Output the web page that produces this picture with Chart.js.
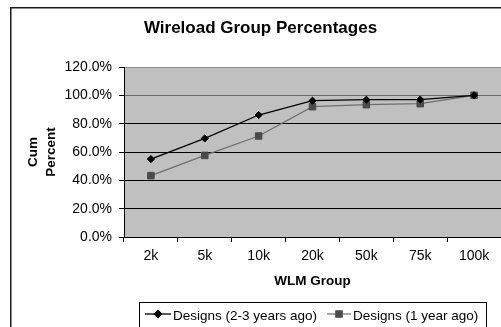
<!DOCTYPE html>
<html>
<head>
<meta charset="utf-8">
<script src="https://cdn.jsdelivr.net/npm/chart.js@4.4.1/dist/chart.umd.min.js"></script>
<style>
  html, body { margin: 0; padding: 0; background: #fff; overflow: hidden; }
  #wrap { width: 501px; height: 327px; position: relative; }
</style>
</head>
<body>
<div id="wrap"><canvas id="chart" width="501" height="327"></canvas></div>
<script>
// WLM group buckets along the x axis
const categories = ['2k', '5k', '10k', '20k', '50k', '75k', '100k'];
// Cumulative percentage of designs per group
const designsOlder  = [55.0, 69.6, 86.1, 96.2, 96.9, 97.0, 100.0];
const designsRecent = [43.3, 57.6, 71.3, 92.0, 93.4, 94.1, 100.0];
// Series names
const seriesNames = ['Designs (2-3 years ago)', 'Designs (1 year ago)'];
// Y axis range and step (percent)
const yTicks = [0, 20, 40, 60, 80, 100, 120];

const FONT = '"Liberation Sans", Arial, sans-serif';

// Frame, titles and legend drawn around the plot
const decorations = {
  id: 'decorations',
  beforeDraw(chart) {
    const ctx = chart.ctx;
    const a = chart.chartArea;
    ctx.save();
    ctx.fillStyle = '#fff';
    ctx.fillRect(0, 0, chart.width, chart.height);
    // plot background
    ctx.fillStyle = '#c0c0c0';
    ctx.fillRect(a.left, a.top, a.right - a.left, a.bottom - a.top);
    ctx.restore();
  },
  afterDraw(chart) {
    const ctx = chart.ctx;
    const a = chart.chartArea;
    ctx.save();
    // outer chart frame
    ctx.strokeStyle = '#1a1a1a';
    ctx.lineWidth = 1.5;
    ctx.strokeRect(10.75, 7.75, 560, 400);

    ctx.fillStyle = '#000';
    // chart title
    ctx.font = 'bold 17px ' + FONT;
    ctx.textAlign = 'center';
    ctx.textBaseline = 'alphabetic';
    ctx.fillText('Wireload Group Percentages', 260.5, 33);

    // x axis title
    ctx.font = 'bold 13.5px ' + FONT;
    ctx.fillText('WLM Group', (a.left + a.right) / 2, 285);

    // y axis title, two stacked lines rotated
    const midY = (a.top + a.bottom) / 2;
    [['Cum', 36.7], ['Percent', 54.7]].forEach(([t, x]) => {
      ctx.save();
      ctx.translate(x, midY);
      ctx.rotate(-Math.PI / 2);
      ctx.fillText(t, 0, 0);
      ctx.restore();
    });

    // legend box
    ctx.strokeStyle = '#000';
    ctx.lineWidth = 1;
    ctx.strokeRect(139.5, 302.5, 347, 40);
    ctx.font = '13.5px ' + FONT;
    ctx.textAlign = 'left';
    const symY = 314;
    const items = [
      { x0: 145, x1: 171, tx: 173 },
      { x0: 327, x1: 351, tx: 353 }
    ];
    chart.data.datasets.forEach((ds, i) => {
      const it = items[i];
      ctx.strokeStyle = ds.borderColor;
      ctx.lineWidth = ds.borderWidth;
      ctx.beginPath();
      ctx.moveTo(it.x0, symY);
      ctx.lineTo(it.x1, symY);
      ctx.stroke();
      Chart.helpers.drawPoint(ctx, {
        pointStyle: ds.pointStyle,
        radius: ds.pointRadius,
        borderWidth: 1
      }, (it.x0 + it.x1) / 2, symY);
      ctx.fillStyle = ds.pointBackgroundColor;
      ctx.strokeStyle = ds.pointBorderColor;
      ctx.fill();
      ctx.fillStyle = '#000';
      ctx.fillText(ds.label, it.tx, 320);
    });
    ctx.restore();
  }
};

new Chart(document.getElementById('chart'), {
  type: 'line',
  data: {
    labels: categories,
    datasets: [
      {
        label: seriesNames[0],
        data: designsOlder,
        borderColor: '#000',
        borderWidth: 1.3,
        pointStyle: 'rectRot',
        pointRadius: 3.6,
        pointBackgroundColor: '#000',
        pointBorderColor: '#000',
        pointBorderWidth: 1,
        tension: 0
      },
      {
        label: seriesNames[1],
        data: designsRecent,
        borderColor: '#6e6e6e',
        borderWidth: 1.2,
        pointStyle: 'rect',
        pointRadius: 4.6,
        pointBackgroundColor: '#4a4a4a',
        pointBorderColor: '#4a4a4a',
        pointBorderWidth: 1,
        tension: 0
      }
    ]
  },
  options: {
    responsive: false,
    animation: false,
    devicePixelRatio: 1,
    layout: { autoPadding: false, padding: { top: 67, left: 0, right: 0, bottom: 0 } },
    plugins: {
      legend: { display: false },
      title: { display: false },
      tooltip: { enabled: false }
    },
    scales: {
      x: {
        type: 'category',
        offset: true,
        afterFit(scale) { scale.height = 90; },
        grid: {
          offset: true,
          drawOnChartArea: false,
          drawTicks: true,
          tickLength: 5,
          tickColor: '#000',
          color: '#000'
        },
        border: { display: true, color: '#000', width: 1 },
        ticks: {
          color: '#000',
          font: { family: FONT, size: 14 },
          padding: 6,
          maxRotation: 0,
          autoSkip: false
        }
      },
      y: {
        min: yTicks[0],
        max: yTicks[yTicks.length - 1],
        afterFit(scale) { scale.width = 124; },
        afterBuildTicks(scale) { scale.ticks = yTicks.map(v => ({ value: v })); },
        grid: {
          color(c) {
            const v = c.tick && c.tick.value;
            if (v === 120) return '#8a8a8a';
            if (v === 100) return '#6a6a6a';
            return '#000';
          },
          tickColor: '#000',
          tickLength: 5,
          lineWidth: 1
        },
        border: { display: true, color: '#000', width: 1 },
        ticks: {
          color: '#000',
          font: { family: FONT, size: 14 },
          padding: 7,
          callback: v => v.toFixed(1) + '%'
        }
      }
    }
  },
  plugins: [decorations]
});
</script>
</body>
</html>
